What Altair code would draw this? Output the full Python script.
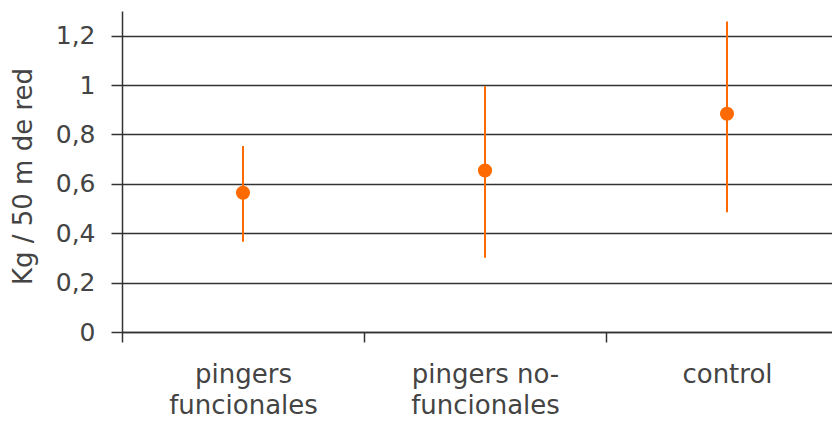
import altair as alt
import pandas as pd

categories = ["pingers|funcionales", "pingers no-|funcionales", "control"]
means = [0.564, 0.654, 0.884]
lows = [0.366, 0.301, 0.485]
highs = [0.753, 0.995, 1.257]
y_ticks = [0, 0.2, 0.4, 0.6, 0.8, 1.0, 1.2]

df = pd.DataFrame({"cat": categories, "mean": means, "low": lows, "high": highs})

ORANGE = "#FF6A00"
LINE = "#333333"
TEXT = "#444444"
FONT = "DejaVu Sans"

x_enc = alt.X(
    "cat:N",
    sort=categories,
    scale=alt.Scale(range=[0, 726], paddingInner=0, paddingOuter=0),
    axis=alt.Axis(
        title=None,
        tickBand="extent",
        labelExpr="split(datum.label, '|')",
        labelAngle=0,
        labelFontSize=26,
        labelLineHeight=31,
        labelPadding=19,
        labelColor=TEXT,
        labelFont=FONT,
        tickSize=10,
        tickColor=LINE,
        tickWidth=1.5,
        domainColor=LINE,
        domainWidth=1.5,
        grid=False,
    ),
)

y_axis = alt.Axis(
    values=y_ticks,
    labelExpr="replace(format(datum.value, '~g'), '.', ',')",
    labelFontSize=25,
    labelColor=TEXT,
    labelFont=FONT,
    labelPadding=16,
    tickSize=11,
    tickColor=LINE,
    tickWidth=1.5,
    domainColor=LINE,
    domainWidth=1.5,
    grid=True,
    gridColor=LINE,
    gridWidth=1.5,
    title="Kg / 50 m de red",
    titleFont=FONT,
    titleFontSize=26,
    titleFontWeight="normal",
    titleColor=TEXT,
    titleX=-91,
    titleY=165,
    titleAngle=270,
    titleAlign="center",
    titleBaseline="alphabetic",
)
y_scale = alt.Scale(domain=[0, 1.3], nice=False)

rules = alt.Chart(df).mark_rule(color=ORANGE, strokeWidth=2).encode(
    x=x_enc,
    y=alt.Y("low:Q", scale=y_scale, axis=y_axis),
    y2="high:Q",
)
points = alt.Chart(df).mark_circle(color=ORANGE, size=200, opacity=1).encode(
    x=x_enc,
    y=alt.Y("mean:Q", scale=y_scale, axis=y_axis),
)

chart = (
    alt.layer(rules, points)
    .properties(
        width=710,
        height=321,
        autosize=alt.AutoSizeParams(type="none"),
        padding={"left": 114, "top": 3, "right": 0, "bottom": 88},
    )
    .configure_view(stroke=None)
)

chart.save("out.html", embed_options={"renderer": "svg", "actions": False})
